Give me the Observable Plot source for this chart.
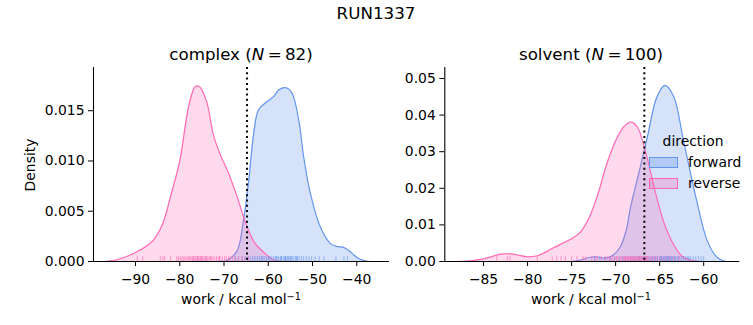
<!DOCTYPE html>
<html><head><meta charset="utf-8">
<script src="https://cdn.jsdelivr.net/npm/d3@7"></script>
<script src="https://cdn.jsdelivr.net/npm/@observablehq/plot@0.6"></script>
<style>
body{margin:0;background:#fff;}
#wrap{position:relative;width:753px;height:325px;font-family:"DejaVu Sans",sans-serif;color:#000;overflow:hidden;}
#wrap svg{position:absolute;top:0;}
.t{position:absolute;white-space:nowrap;transform:translate(-50%,-50%);line-height:1;}
.lab{font-size:13.9px;}
.ttl{font-size:16.7px;}
.patch{position:absolute;width:27px;height:9px;}
.leg{position:absolute;font-size:13.9px;line-height:1;white-space:nowrap;transform:translateY(-50%);}
sup{font-size:0.7em;vertical-align:0;position:relative;top:-0.45em;}
</style></head><body><div id="wrap"></div>
<script>
// ---- data ----
const directions = ["forward", "reverse"];
const colors = ["#6495ED", "#FF69B4"];

// complex panel
const complexFwdX = [-71, -69, -67, -65.6, -64.4, -63.3, -62.2, -60.3, -58.8, -57.5, -56.1, -55, -54.3, -53, -52, -50.5, -48.2, -46, -44.5, -43, -41.8, -40.5, -39.6, -38, -37];
const complexFwdD = [0, 0.0002, 0.0011, 0.0041, 0.0081, 0.0127, 0.0151, 0.0159, 0.0164, 0.0171, 0.0173, 0.0170, 0.0164, 0.0138, 0.0104, 0.0068, 0.0034, 0.0018, 0.0015, 0.0014, 0.0011, 0.0006, 0.0003, 0.00005, 0];
const complexRevX = [-97, -94, -92, -90, -88, -86, -84, -82, -80, -78, -76.5, -75.6, -74, -72.4, -71, -69, -67, -65, -63, -61, -59, -57];
const complexRevD = [0, 0.0002, 0.0005, 0.0009, 0.0014, 0.0021, 0.0036, 0.0066, 0.0100, 0.0154, 0.0174, 0.0174, 0.0160, 0.0126, 0.0108, 0.0088, 0.0064, 0.0037, 0.0018, 0.0009, 0.0002, 0];
const complexFwdRug = [-67.5, -66.8, -65.9, -65.2, -64.6, -64.1, -63.6, -63.2, -62.8, -62.4, -62.0, -61.6, -61.2, -60.8, -60.4, -60.0, -59.6, -59.2, -58.8, -58.4, -58.0, -57.7, -57.3, -57.0, -56.6, -56.3, -56.0, -55.7, -55.3, -55.0, -54.6, -54.2, -53.8, -53.4, -53.0, -52.5, -52.0, -51.4, -50.8, -50.2, -49.4, -48.5, -47.4, -44.7, -42.9, -42.1, -61.4, -59.9, -58.2, -57.1, -56.1, -55.5, -54.8, -53.6];
const complexRevRug = [-89.6, -88.4, -84.4, -83.8, -83.4, -82.1, -80.7, -80.3, -79.9, -79.5, -79.1, -78.8, -78.4, -78.1, -77.8, -77.5, -77.2, -76.9, -76.6, -76.4, -76.1, -75.8, -75.6, -75.3, -75.0, -74.8, -74.5, -74.2, -73.9, -73.6, -73.2, -72.9, -72.5, -72.1, -71.7, -71.3, -70.9, -70.4, -69.9, -69.5, -69.0, -68.6, -68.0, -67.4, -66.7, -66.0, -65.3, -64.5, -77.0, -76.0, -75.1, -74.0, -73.0, -71.0];
const complexLine = -64.8;

// solvent panel
const solventFwdX = [-75, -74, -73, -72.2, -71.3, -70.5, -69.5, -68.8, -68.3, -67.2, -66.4, -65.3, -64.4, -63.4, -62.3, -60.8, -59.6, -58.5, -57.5];
const solventFwdD = [0, 0.0004, 0.0011, 0.0013, 0.0009, 0.0014, 0.0039, 0.0085, 0.0149, 0.0258, 0.0340, 0.0450, 0.0481, 0.0450, 0.0331, 0.0167, 0.0057, 0.0012, 0];
const solventRevX = [-88, -86.5, -85, -84, -83, -82, -81, -80, -79, -78, -77, -76, -75, -74, -73, -72, -71, -70, -69, -68.2, -67.5, -66.5, -65.5, -64.5, -63.5, -62.5, -61.5, -60.5];
const solventRevD = [0, 0.0002, 0.0007, 0.0014, 0.0020, 0.0021, 0.0017, 0.0013, 0.0015, 0.0025, 0.0038, 0.0050, 0.0062, 0.0080, 0.0120, 0.0185, 0.0267, 0.0330, 0.0370, 0.0381, 0.0366, 0.0290, 0.0190, 0.0105, 0.0050, 0.0015, 0.0004, 0];
const solventFwdRug = [-72.4, -71.8, -71.2, -70.6, -70.1, -69.6, -69.2, -68.9, -68.6, -68.3, -68.0, -67.8, -67.5, -67.3, -67.1, -66.9, -66.7, -66.5, -66.3, -66.1, -65.9, -65.8, -65.6, -65.5, -65.3, -65.2, -65.0, -64.9, -64.8, -64.7, -64.6, -64.5, -64.4, -64.3, -64.2, -64.1, -64.0, -63.9, -63.8, -63.7, -63.6, -63.5, -63.3, -63.2, -63.0, -62.9, -62.7, -62.5, -62.3, -62.1, -61.9, -61.7, -61.5, -61.2, -60.9, -60.6, -60.3, -60.0];
const solventRevRug = [-83.5, -82.3, -82.0, -78.9, -77.2, -76.7, -76.2, -75.7, -75.0, -74.4, -73.7, -73.4, -72.7, -72.3, -72.1, -71.6, -71.2, -70.9, -70.7, -70.5, -70.3, -70.1, -69.9, -69.8, -69.6, -69.4, -69.3, -69.1, -69.0, -68.9, -68.8, -68.7, -68.6, -68.5, -68.4, -68.3, -68.2, -68.1, -68.0, -67.9, -67.8, -67.7, -67.6, -67.5, -67.4, -67.3, -67.2, -67.1, -67.0, -66.9, -66.8, -66.7, -66.6, -66.5, -66.4, -66.3, -66.1, -65.9, -65.7, -65.5, -65.3, -65.0, -64.7, -64.3, -63.9, -63.4, -62.8];
const solventLine = -66.74;

// ticks
const complexXTicks = [-90, -80, -70, -60, -50, -40];
const complexYTicks = [0, 0.005, 0.010, 0.015];
const solventXTicks = [-85, -80, -75, -70, -65, -60];
const solventYTicks = [0, 0.01, 0.02, 0.03, 0.04, 0.05];

// ---- drawing ----
function panel(o) {
  const fwd = o.fx.map((x, i) => ({x, d: o.fd[i]}));
  const rev = o.rx.map((x, i) => ({x, d: o.rd[i]}));
  const rugH = o.yDomain[1] * 0.025;
  const curve = "catmull-rom";
  const svg = Plot.plot({
    width: o.width, height: 325,
    marginTop: 67, marginBottom: 64, marginLeft: o.ml, marginRight: o.mr,
    style: {background: "transparent", fontFamily: "DejaVu Sans", fontSize: "13.9px", color: "#000", overflow: "visible"},
    x: {domain: o.xDomain, ticks: o.xTicks, tickSize: 5, tickPadding: 8, tickFormat: d3.format("d"), label: null},
    y: {domain: o.yDomain, ticks: o.yTicks, tickSize: 5, tickPadding: 4, tickFormat: d3.format(o.yFmt), label: null},
    marks: [
      Plot.areaY(fwd, {x: "x", y: "d", fill: colors[0], fillOpacity: 0.27, curve}),
      Plot.lineY(fwd, {x: "x", y: "d", stroke: colors[0], strokeWidth: 1.2, curve}),
      Plot.areaY(rev, {x: "x", y: "d", fill: colors[1], fillOpacity: 0.25, curve}),
      Plot.lineY(rev, {x: "x", y: "d", stroke: colors[1], strokeWidth: 1.2, curve}),
      Plot.ruleX(o.frug, {x: d => d, y1: 0, y2: rugH, stroke: colors[0], strokeOpacity: 0.6, strokeWidth: 1}),
      Plot.ruleX(o.rrug, {x: d => d, y1: 0, y2: rugH, stroke: colors[1], strokeOpacity: 0.6, strokeWidth: 1}),
      Plot.ruleX([o.vline], {stroke: "black", strokeWidth: 2, strokeDasharray: "2,3.3"}),
      Plot.ruleY([o.yDomain[0]], {stroke: "black", strokeWidth: 1.1}),
      Plot.ruleX([o.xDomain[0]], {stroke: "black", strokeWidth: 1.1})
    ]
  });
  svg.style.left = o.left + "px";
  return svg;
}

const wrap = document.getElementById("wrap");
wrap.appendChild(panel({
  left: 0, width: 390, ml: 93, mr: 1,
  xDomain: [-99.5, -32.6], yDomain: [0, 0.0193],
  xTicks: complexXTicks, yTicks: complexYTicks, yFmt: ".3f",
  fx: complexFwdX, fd: complexFwdD, rx: complexRevX, rd: complexRevD,
  frug: complexFwdRug, rrug: complexRevRug, vline: complexLine
}));
wrap.appendChild(panel({
  left: 390, width: 363, ml: 54.3, mr: 13.7,
  xDomain: [-89.4, -55.9], yDomain: [0, 0.053],
  xTicks: solventXTicks, yTicks: solventYTicks, yFmt: ".2f",
  fx: solventFwdX, fd: solventFwdD, rx: solventRevX, rd: solventRevD,
  frug: solventFwdRug, rrug: solventRevRug, vline: solventLine
}));

function text(html, x, y, cls, extra) {
  const d = document.createElement("div");
  d.className = "t " + cls;
  d.innerHTML = html;
  d.style.left = x + "px"; d.style.top = y + "px";
  if (extra) d.style.transform = extra;
  wrap.appendChild(d);
}
text("RUN1337", 376, 13, "ttl");
text("complex (<i>N</i>&#8201;=&#8201;82)", 241, 54, "ttl");
text("solvent (<i>N</i>&#8201;=&#8201;100)", 591, 54, "ttl");
text("work / kcal mol<sup>−1</sup>", 241, 300, "lab");
text("work / kcal mol<sup>−1</sup>", 591, 300, "lab");
text("Density", 31, 165, "lab", "translate(-50%,-50%) rotate(-90deg)");

// legend
text("direction", 693, 142, "lab");
const legendRows = [{y: 157}, {y: 178}];
directions.forEach((name, i) => {
  const p = document.createElement("div");
  p.className = "patch";
  p.style.left = "649px"; p.style.top = legendRows[i].y + "px";
  p.style.border = "1px solid " + colors[i];
  p.style.background = d3.color(colors[i]).copy({opacity: 0.3}).toString();
  wrap.appendChild(p);
  const l = document.createElement("div");
  l.className = "leg";
  l.textContent = name;
  l.style.left = "688px"; l.style.top = (legendRows[i].y + 5.5) + "px";
  wrap.appendChild(l);
});
</script>
</body></html>
